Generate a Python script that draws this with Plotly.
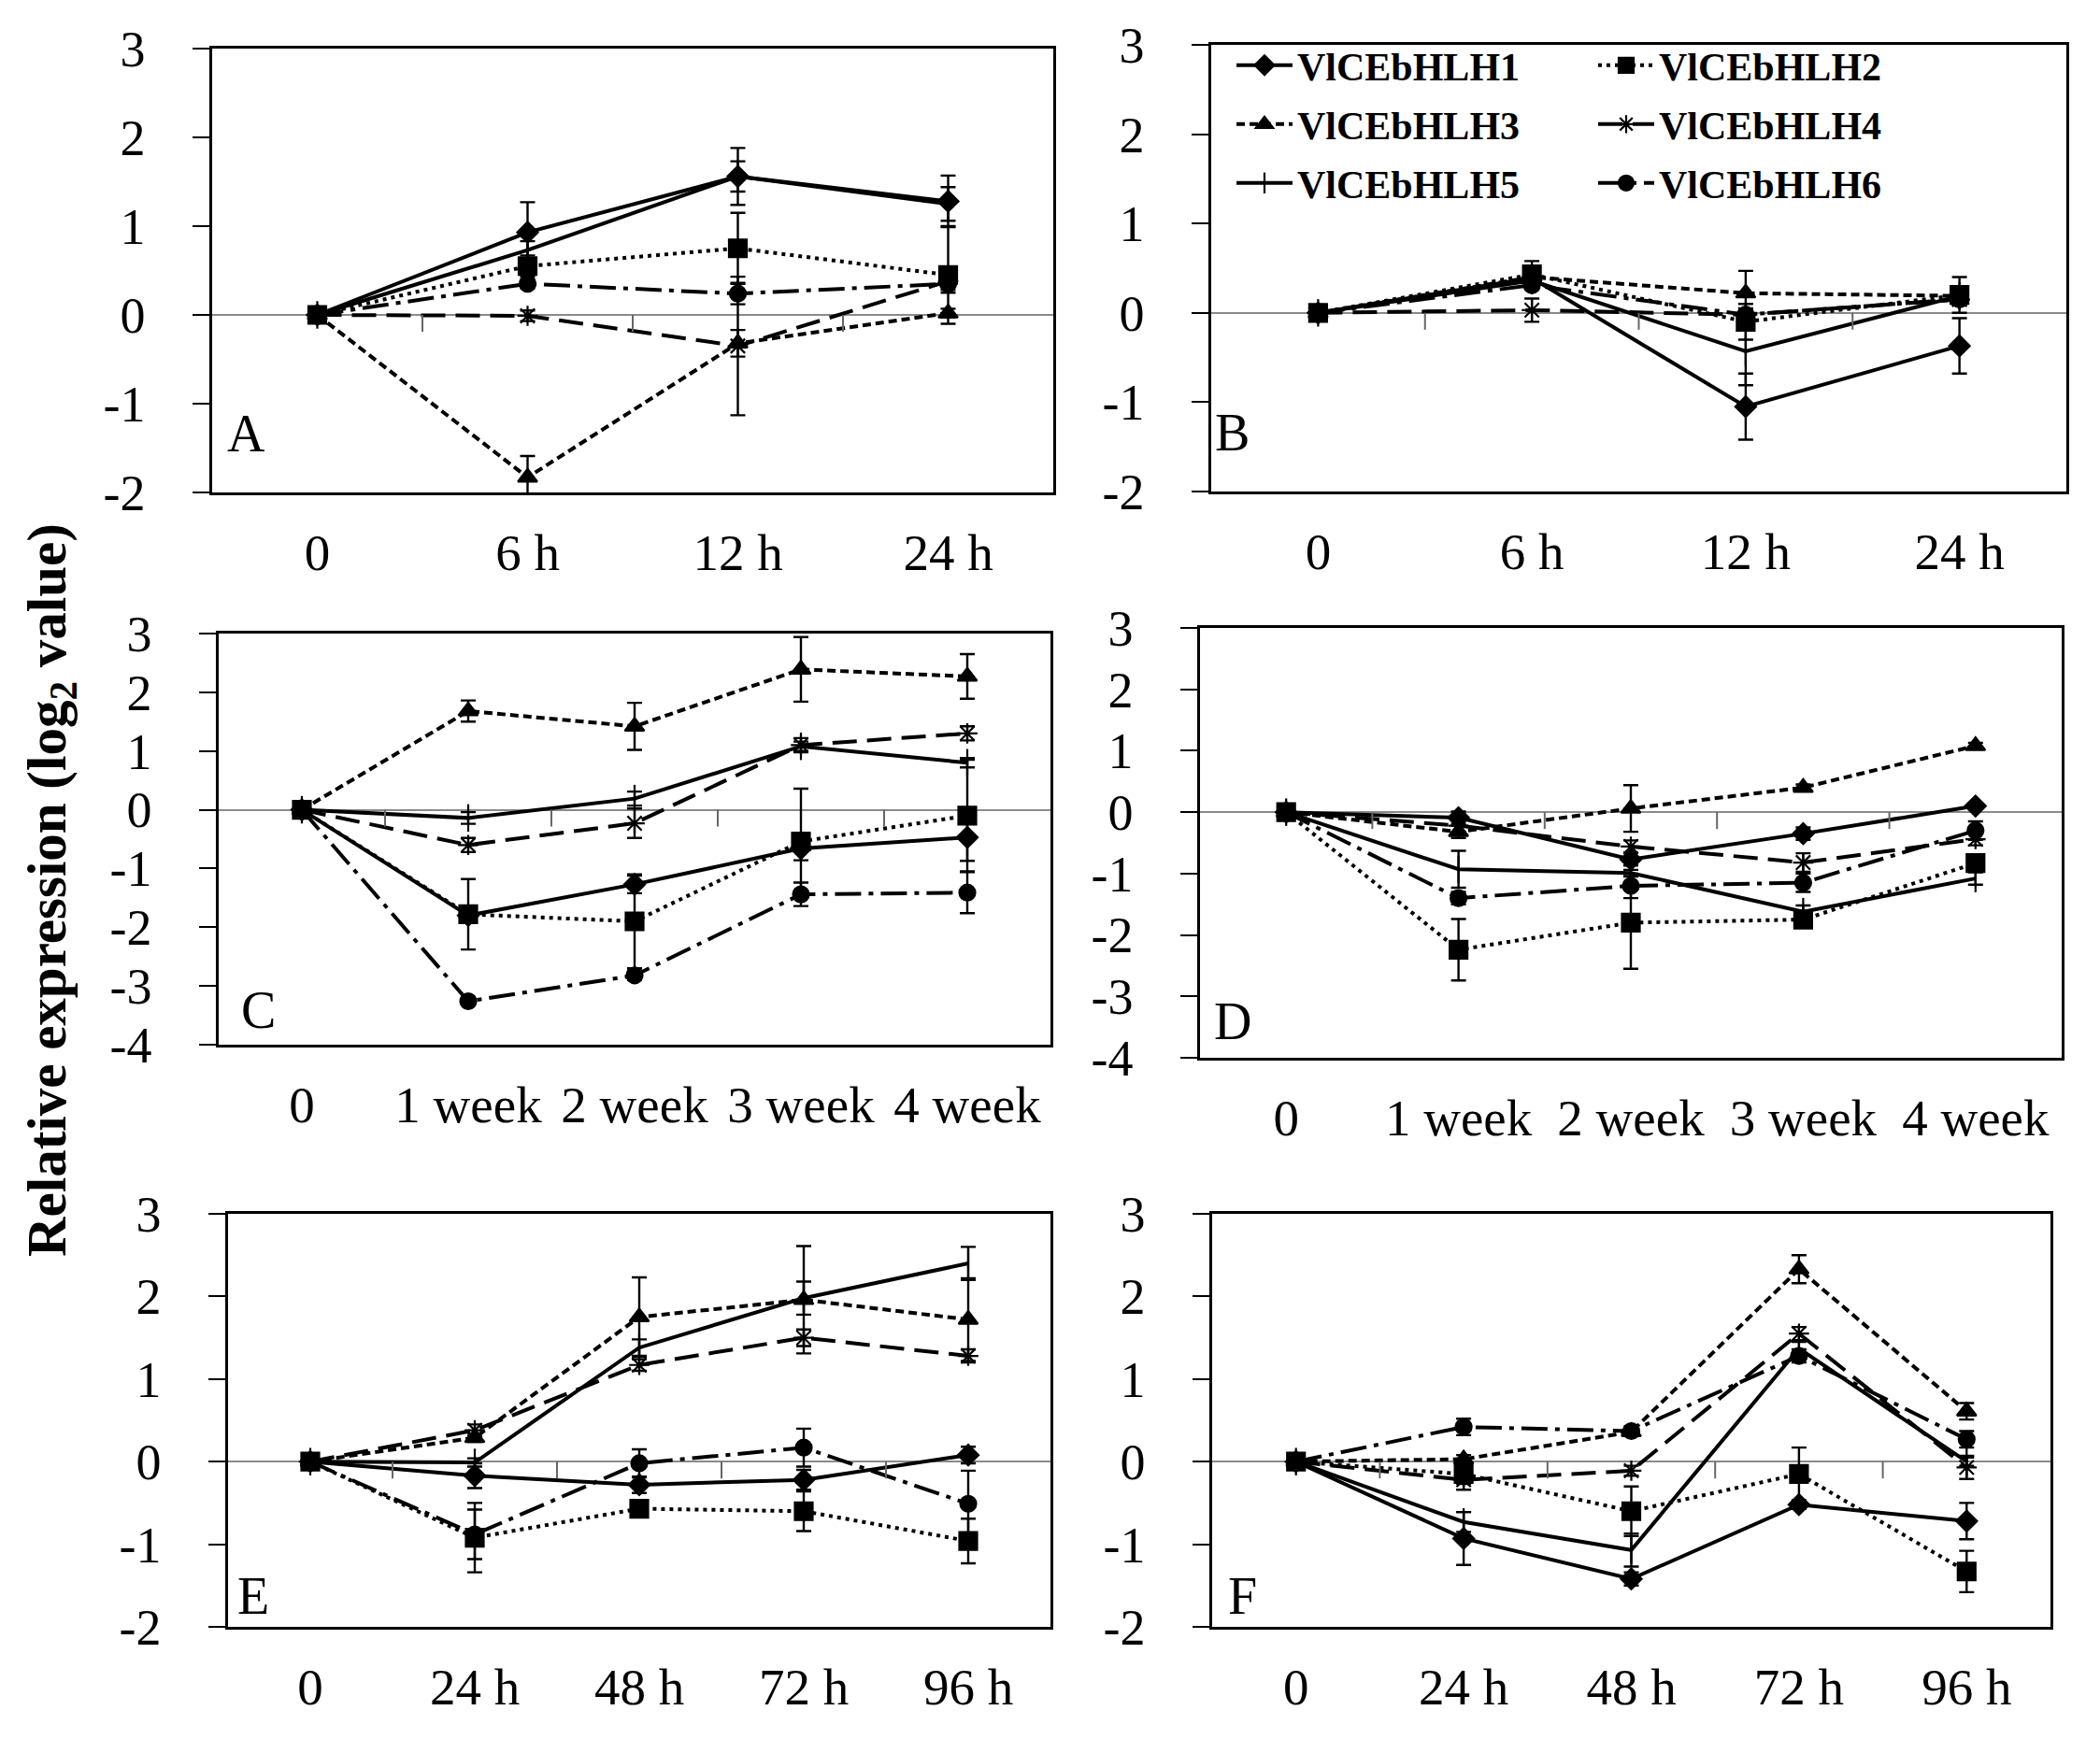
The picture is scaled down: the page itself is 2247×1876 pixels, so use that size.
import plotly.graph_objects as go

W, H = 2247, 1876

genes = ["VlCEbHLH1", "VlCEbHLH2", "VlCEbHLH3", "VlCEbHLH4", "VlCEbHLH5", "VlCEbHLH6"]

cats_AB = ["0", "6 h", "12 h", "24 h"]
cats_CD = ["0", "1 week", "2 week", "3 week", "4 week"]
cats_EF = ["0", "24 h", "48 h", "72 h", "96 h"]

yticks_5 = [-2, -1, 0, 1, 2, 3]
ylabels_5 = ["-2", "-1", "0", "1", "2", "3"]
yticks_7 = [-4, -3, -2, -1, 0, 1, 2, 3]
ylabels_7 = ["-4", "-3", "-2", "-1", "0", "1", "2", "3"]

# mean log2 values, one row per gene (VlCEbHLH1..6)
A_mean = [[0, 0.93, 1.56, 1.28],
          [0, 0.55, 0.75, 0.45],
          [0, -1.83, -0.32, 0.02],
          [0, -0.01, -0.35, 0.38],
          [0, 0.73, 1.56, 1.25],
          [0, 0.35, 0.24, 0.35]]
A_err = [[0.03, 0.34, 0.32, 0.29],
         [0.03, 0.12, 0.40, 0.55],
         [0.03, 0.24, 0.15, 0.05],
         [0.03, 0.06, 0.78, 0.10],
         [0.03, 0.10, 0.17, 0.19],
         [0.03, 0.05, 0.12, 0.10]]

B_mean = [[0, 0.39, -1.05, -0.37],
          [0, 0.43, -0.10, 0.20],
          [0, 0.40, 0.22, 0.19],
          [0, 0.03, -0.02, 0.15],
          [0, 0.36, -0.43, 0.19],
          [0, 0.31, -0.02, 0.15]]
B_err = [[0.03, 0.10, 0.37, 0.31],
         [0.03, 0.15, 0.20, 0.20],
         [0.03, 0.05, 0.25, 0.10],
         [0.03, 0.13, 0.05, 0.05],
         [0.03, 0.05, 0.38, 0.10],
         [0.03, 0.05, 0.05, 0.05]]

C_mean = [[0, -1.80, -1.27, -0.66, -0.47],
          [0, -1.78, -1.90, -0.54, -0.10],
          [0, 1.68, 1.42, 2.39, 2.27],
          [0, -0.60, -0.23, 1.10, 1.30],
          [0, -0.14, 0.19, 1.08, 0.80],
          [0, -3.26, -2.82, -1.44, -1.41]]
C_err = [[0.03, 0.10, 0.15, 0.20, 0.40],
         [0.03, 0.60, 0.80, 0.90, 0.95],
         [0.03, 0.18, 0.40, 0.55, 0.38],
         [0.03, 0.12, 0.25, 0.12, 0.12],
         [0.03, 0.10, 0.12, 0.08, 0.08],
         [0.03, 0.05, 0.08, 0.20, 0.35]]

D_mean = [[0, -0.09, -0.77, -0.35, 0.10],
          [0, -2.24, -1.80, -1.75, -0.83],
          [0, -0.32, 0.06, 0.40, 1.08],
          [0, -0.22, -0.56, -0.82, -0.44],
          [0, -0.93, -0.99, -1.62, -1.08],
          [0, -1.40, -1.20, -1.15, -0.30]]
D_err = [[0.03, 0.10, 0.10, 0.10, 0.05],
         [0.03, 0.50, 0.75, 0.05, 0.10],
         [0.03, 0.10, 0.38, 0.05, 0.05],
         [0.03, 0.10, 0.10, 0.15, 0.10],
         [0.03, 0.30, 0.05, 0.10, 0.10],
         [0.03, 0.10, 0.20, 0.15, 0.15]]

E_mean = [[0, -0.17, -0.28, -0.22, 0.08],
          [0, -0.92, -0.57, -0.60, -0.96],
          [0, 0.29, 1.75, 1.96, 1.72],
          [0, 0.38, 1.17, 1.50, 1.28],
          [0, -0.01, 1.38, 1.98, 2.40],
          [0, -0.88, -0.02, 0.17, -0.51]]
E_err = [[0.03, 0.15, 0.10, 0.12, 0.10],
         [0.03, 0.42, 0.05, 0.24, 0.27],
         [0.03, 0.05, 0.48, 0.65, 0.50],
         [0.03, 0.07, 0.07, 0.10, 0.08],
         [0.03, 0.05, 0.10, 0.20, 0.20],
         [0.03, 0.30, 0.17, 0.23, 0.40]]

F_mean = [[0, -0.93, -1.42, -0.52, -0.72],
          [0, -0.15, -0.60, -0.15, -1.33],
          [0, 0.03, 0.36, 2.33, 0.61],
          [0, -0.22, -0.11, 1.55, -0.07],
          [0, -0.73, -1.07, 1.37, 0.00],
          [0, 0.42, 0.37, 1.28, 0.27]]
F_err = [[0.03, 0.32, 0.08, 0.05, 0.22],
         [0.03, 0.12, 0.30, 0.32, 0.25],
         [0.03, 0.05, 0.05, 0.17, 0.10],
         [0.03, 0.12, 0.06, 0.08, 0.14],
         [0.03, 0.12, 0.20, 0.08, 0.05],
         [0.03, 0.10, 0.06, 0.08, 0.10]]

FONT = "Liberation Serif, Times New Roman, serif"

styles = [
    dict(dash="solid", symbol="diamond", size=17),
    dict(dash="4px,5px", symbol="square", size=19),
    dict(dash="9px,5px", symbol="triangle-up", size=18),
    dict(dash="26px,11px", symbol="asterisk-open", size=18),
    dict(dash="solid", symbol="line-ns-open", size=21),
    dict(dash="28px,8px,5px,8px", symbol="circle", size=17),
]
# legend row (two genes per row) used by each gene
legend_row = ["legend", "legend", "legend2", "legend2", "legend3", "legend3"]

# panel geometry in pixels: (label, cats, mean, err, x0, x1, top, bottom, ymin, yticks, ylabels, letter offsets)
panels = [
    ("A", cats_AB, A_mean, A_err, 227, 1127, 52, 527, -2, yticks_5, ylabels_5, (14, 30)),
    ("B", cats_AB, B_mean, B_err, 1296, 2211, 48, 526, -2, yticks_5, ylabels_5, (2, 30)),
    ("C", cats_CD, C_mean, C_err, 234, 1124, 678, 1118, -4, yticks_7, ylabels_7, (22, 4)),
    ("D", cats_CD, D_mean, D_err, 1284, 2206, 672, 1132, -4, yticks_7, ylabels_7, (13, 6)),
    ("E", cats_EF, E_mean, E_err, 244, 1124, 1299, 1741, -2, yticks_5, ylabels_5, (8, 0)),
    ("F", cats_EF, F_mean, F_err, 1297, 2194, 1299, 1741, -2, yticks_5, ylabels_5, (15, 0)),
]

fig = go.Figure()
layout = dict(template="none", width=W, height=H, autosize=False,
              margin=dict(l=0, r=0, t=0, b=0, autoexpand=False),
              paper_bgcolor="white", plot_bgcolor="white",
              font=dict(family=FONT, color="black"),
              showlegend=True, hovermode=False)
annotations = []
shapes = []

for i, (lab, cats, mean, err, x0, x1, top, bot, ymin, ytv, ytt, (lx, ly)) in enumerate(panels):
    n = i + 1
    xa = "xaxis" if n == 1 else f"xaxis{n}"
    ya = "yaxis" if n == 1 else f"yaxis{n}"
    xr = "x" if n == 1 else f"x{n}"
    yr = "y" if n == 1 else f"y{n}"
    xs = list(range(len(cats)))
    for g in range(6):
        st = styles[g]
        fig.add_trace(go.Scatter(
            x=xs, y=mean[g], xaxis=xr, yaxis=yr,
            name=genes[g], legend=legend_row[g], showlegend=(lab == "B"),
            mode="lines+markers",
            line=dict(color="black", width=4, dash=st["dash"]),
            marker=dict(symbol=st["symbol"], size=st["size"], color="black",
                        line=dict(color="black", width=2.2)),
            error_y=dict(type="data", array=err[g], color="black", thickness=2.4, width=8),
        ))
    layout[xa] = dict(domain=[x0 / W, x1 / W], anchor=yr, range=[-0.5, len(cats) - 0.5],
                      tickvals=xs, ticktext=cats, ticks="", showgrid=False, zeroline=False,
                      showline=True, mirror=True, linecolor="black", linewidth=2.5,
                      automargin=False,
                      tickfont=dict(size=55, family=FONT), ticklabelstandoff=14)
    layout[ya] = dict(domain=[1 - bot / H, 1 - top / H], anchor=xr, range=[ymin, 3],
                      tickvals=ytv, ticktext=ytt, ticks="outside", ticklen=18, tickwidth=2,
                      tickcolor="black", showgrid=False, zeroline=True, zerolinecolor="#8a8a8a",
                      zerolinewidth=2, showline=True, mirror=True, linecolor="black", linewidth=2.5,
                      automargin=False,
                      tickfont=dict(size=54, family=FONT), ticklabelstandoff=40)
    for k in range(len(cats) - 1):
        shapes.append(dict(type="line", xref=xr, yref=yr, x0=k + 0.5, x1=k + 0.5,
                           ysizemode="pixel", yanchor=0, y0=0, y1=-18,
                           line=dict(color="#666", width=2)))
    annotations.append(dict(text=lab, xref=f"{xr} domain", yref=f"{yr} domain", x=0, y=0,
                            xanchor="left", yanchor="bottom", xshift=lx, yshift=ly,
                            showarrow=False, font=dict(size=56, family=FONT)))

annotations.append(dict(text="<b>Relative expression (log<sub>2</sub> value)</b>",
                        xref="paper", yref="paper", x=54 / W, y=1 - 953 / H,
                        xanchor="center", yanchor="middle", textangle=-90, showarrow=False,
                        font=dict(size=59, family=FONT)))

layout["annotations"] = annotations
layout["shapes"] = shapes
for key, yc in (("legend", 70), ("legend2", 133), ("legend3", 196)):
    layout[key] = dict(orientation="h", x=1318 / W, y=1 - yc / H, xanchor="left", yanchor="middle",
                       entrywidth=312, entrywidthmode="pixels", bgcolor="rgba(0,0,0,0)",
                       font=dict(size=42, family=FONT, weight="bold"), itemwidth=60,
                       traceorder="normal")
fig.update_layout(**layout)
fig.write_html("out.html")
